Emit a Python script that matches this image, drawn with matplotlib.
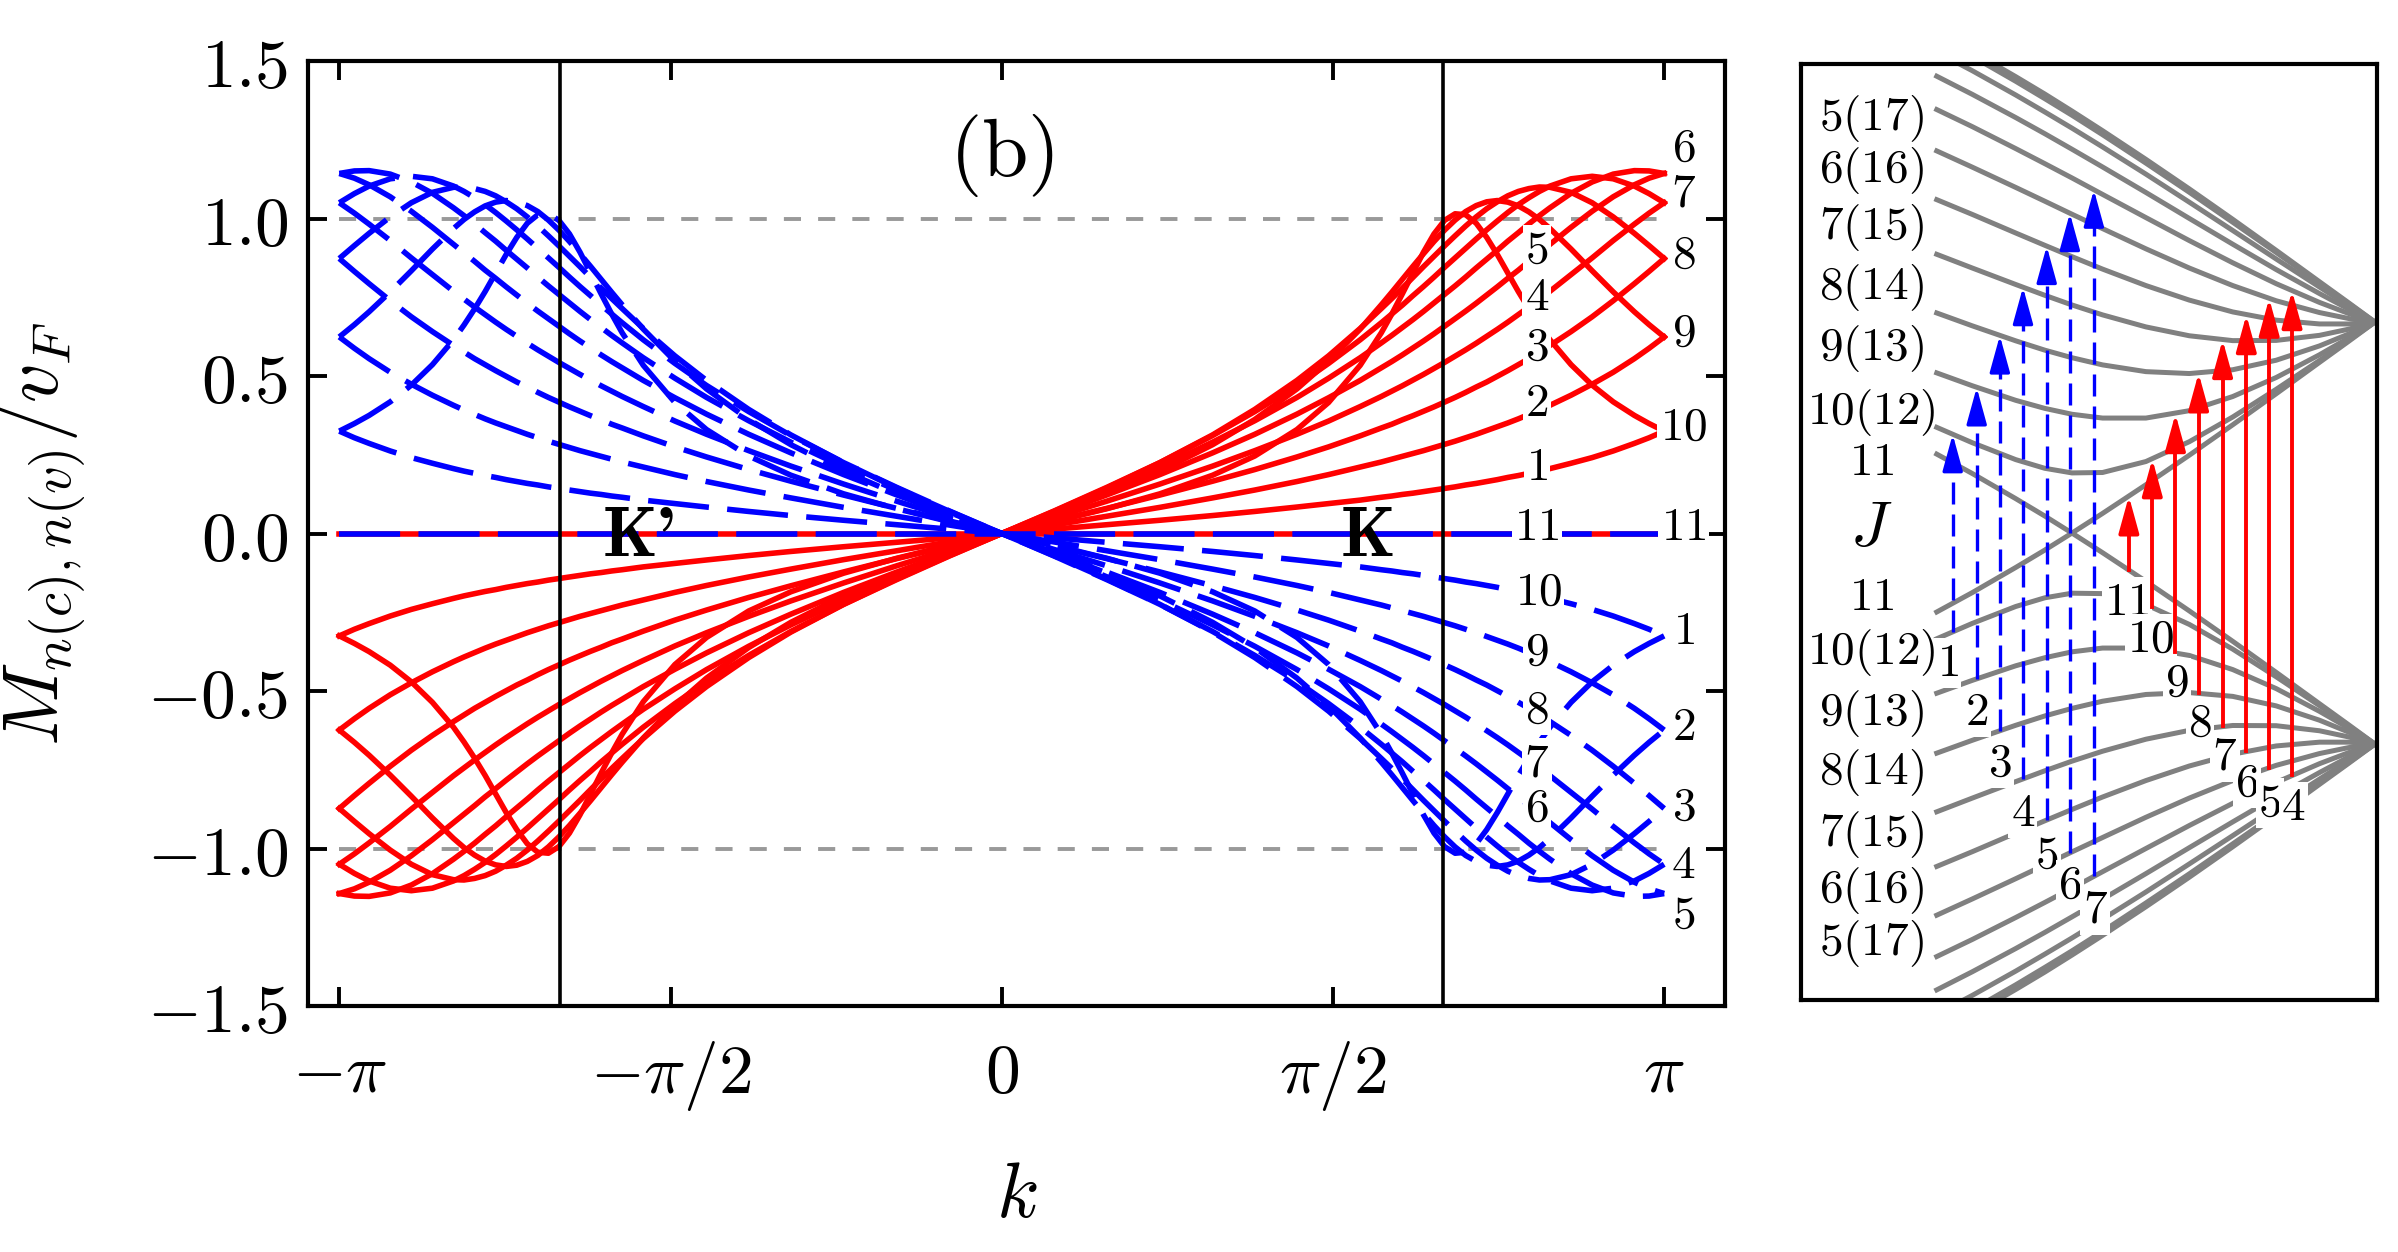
import numpy as np
import matplotlib
matplotlib.use('Agg')
import matplotlib.pyplot as plt

plt.rcParams['mathtext.fontset'] = 'cm'
plt.rcParams['font.family'] = 'serif'
plt.rcParams['font.serif'] = ['DejaVu Serif']

# ---------------- data: left panel (k >= 0 half; curve is odd in k) ----------------
K_GRID = [0, 0.25, 0.5, 0.75, 1.0, 1.2, 1.4, 1.55, 1.7, 1.8, 1.85, 1.9, 1.95, 2.0, 2.05, 2.1,
          2.15, 2.2, 2.25, 2.3, 2.35, 2.4, 2.45, 2.5, 2.55, 2.6, 2.7, 2.8, 2.9, 3.0, 3.07, 3.14159]
# M_{n(c),n(v)}/v_F in thousandths, one list per subband n
M1 = [0, 14, 28, 42, 57, 70, 84, 95, 106, 115, 119, 124, 128, 133, 138, 143, 148, 154, 159, 165, 171, 178, 184, 191, 198, 206, 223, 241, 262, 286, 304, 325]
M2 = [0, 27, 55, 83, 113, 138, 165, 187, 211, 227, 236, 245, 254, 263, 273, 283, 293, 304, 315, 327, 339, 351, 364, 378, 392, 407, 439, 474, 512, 555, 588, 624]
M3 = [0, 40, 80, 122, 166, 203, 243, 275, 310, 335, 347, 361, 374, 388, 402, 417, 432, 448, 465, 481, 499, 517, 536, 555, 576, 597, 641, 688, 739, 793, 832, 873]
M4 = [0, 51, 103, 157, 214, 263, 315, 357, 403, 435, 452, 469, 487, 505, 524, 543, 563, 583, 604, 626, 648, 671, 695, 719, 744, 769, 822, 875, 930, 982, 1017, 1050]
M5 = [0, 61, 123, 187, 256, 315, 379, 431, 486, 526, 546, 567, 589, 611, 634, 658, 682, 706, 731, 757, 783, 810, 836, 864, 891, 918, 972, 1023, 1069, 1107, 1128, 1143]
M6 = [0, 68, 138, 211, 290, 358, 432, 493, 558, 605, 629, 654, 679, 705, 732, 759, 786, 814, 843, 871, 899, 928, 955, 983, 1009, 1034, 1080, 1116, 1141, 1152, 1151, 1143]
M7 = [0, 72, 147, 225, 311, 387, 470, 540, 615, 669, 697, 725, 755, 784, 814, 845, 875, 905, 935, 964, 992, 1019, 1044, 1066, 1086, 1103, 1126, 1134, 1126, 1103, 1079, 1050]
M8 = [0, 71, 145, 225, 313, 394, 486, 564, 651, 714, 746, 779, 813, 847, 880, 913, 945, 976, 1005, 1031, 1053, 1072, 1086, 1095, 1100, 1099, 1083, 1050, 1005, 953, 914, 873]
M9 = [0, 62, 126, 198, 282, 362, 459, 547, 649, 726, 766, 807, 848, 888, 927, 963, 995, 1022, 1041, 1053, 1057, 1052, 1040, 1021, 997, 968, 903, 834, 767, 704, 663, 624]
M10 = [0, 38, 79, 126, 185, 246, 330, 416, 534, 637, 697, 761, 827, 893, 951, 994, 1015, 1012, 985, 940, 886, 827, 768, 713, 662, 615, 536, 471, 418, 375, 349, 325]
M_CURVES = [M1, M2, M3, M4, M5, M6, M7, M8, M9, M10]

X_TICKS = [-np.pi, -np.pi / 2, 0, np.pi / 2, np.pi]
X_TICKLABELS = [r'$-\pi$', r'$-\pi/2$', r'$0$', r'$\pi/2$', r'$\pi$']
Y_TICKS = [-1.5, -1.0, -0.5, 0.0, 0.5, 1.0, 1.5]
Y_TICKLABELS = [r'$-1.5$', r'$-1.0$', r'$-0.5$', r'$0.0$', r'$0.5$', r'$1.0$', r'$1.5$']

# curve labels (text, k, value)
RED_LABELS = [('5', 2.538, 0.899), ('4', 2.538, 0.751), ('3', 2.538, 0.592), ('2', 2.538, 0.413), ('1', 2.538, 0.211),
              ('11', 2.538, 0.021), ('6', 3.233, 1.222), ('7', 3.233, 1.079), ('8', 3.233, 0.883),
              ('9', 3.233, 0.635), ('10', 3.233, 0.338), ('11', 3.233, 0.021)]
BLUE_LABELS = [('10', 2.545, -0.185), ('9', 2.538, -0.376), ('8', 2.538, -0.561), ('7', 2.538, -0.730),
               ('6', 2.538, -0.873), ('1', 3.233, -0.312), ('2', 3.233, -0.614), ('3', 3.233, -0.868),
               ('4', 3.233, -1.053), ('5', 3.233, -1.212)]

# ---------------- data: right panel (band energies E_J(k), thousandths) ----------------
KR = [1.627, 1.75, 1.9, 2.0, 2.0944, 2.2, 2.35, 2.5, 2.65, 2.8, 2.95, 3.05, 3.14159]
E1 = [2350, 2259, 2141, 2059, 1980, 1888, 1753, 1615, 1473, 1330, 1185, 1088, 1000]
E2 = [2280, 2191, 2076, 1996, 1919, 1830, 1701, 1568, 1434, 1299, 1166, 1078, 1000]
E3 = [2165, 2079, 1969, 1893, 1819, 1735, 1614, 1491, 1369, 1249, 1135, 1062, 1000]
E4 = [2007, 1926, 1822, 1751, 1683, 1605, 1495, 1386, 1281, 1182, 1093, 1041, 1000]
E5 = [1811, 1734, 1638, 1573, 1511, 1443, 1347, 1256, 1173, 1101, 1045, 1017, 1000]
E6 = [1580, 1510, 1422, 1364, 1310, 1251, 1173, 1104, 1048, 1009, 991, 991, 1000]
E7 = [1321, 1256, 1178, 1127, 1081, 1034, 977, 935, 912, 913, 937, 966, 1000]
E8 = [1043, 982, 911, 867, 831, 797, 765, 756, 774, 819, 887, 943, 1000]
E9 = [759, 698, 629, 591, 563, 545, 545, 580, 647, 737, 845, 924, 1000]
E10 = [501, 428, 348, 307, 285, 287, 339, 433, 550, 681, 818, 913, 1000]
E11 = [374, 282, 163, 81, 0, 93, 229, 369, 513, 660, 809, 908, 1000]
E22 = [2374, 2282, 2163, 2081, 2000, 1907, 1771, 1631, 1487, 1340, 1191, 1092, 1000]
BANDS = [E1, E2, E3, E4, E5, E6, E7, E8, E9, E10, E11, E22]

# transitions: k position and band energy reached (valence -E -> conduction +E)
K_BLUE = [1.682, 1.765, 1.845, 1.925, 2.007, 2.087, 2.170]
E_BLUE = [0.468, 0.690, 0.936, 1.165, 1.360, 1.516, 1.627]
K_RED = [2.291, 2.372, 2.452, 2.532, 2.615, 2.697, 2.776, 2.855]
E_RED = [0.175, 0.351, 0.565, 0.758, 0.916, 1.034, 1.112, 1.148]

LEFT_TEXT = [('5(17)', 1.967), ('6(16)', 1.720), ('7(15)', 1.450), ('8(14)', 1.166), ('9(13)', 0.877),
             ('10(12)', 0.569), ('11', 0.336), ('11', -0.303), ('10(12)', -0.564),
             ('9(13)', -0.853), ('8(14)', -1.137), ('7(15)', -1.431), ('6(16)', -1.692), ('5(17)', -1.943)]
LOW_TEXT = [('1', 1.665, -0.616), ('2', 1.765, -0.848), ('3', 1.845, -1.090), ('4', 1.924, -1.327),
            ('5', 2.008, -1.526), ('6', 2.087, -1.668), ('7', 2.174, -1.787),
            ('11', 2.284, -0.327), ('10', 2.368, -0.503), ('9', 2.457, -0.711), ('8', 2.537, -0.900),
            ('7', 2.623, -1.062), ('6', 2.700, -1.185), ('5', 2.779, -1.280), ('4', 2.859, -1.299)]

RED = '#ff0000'
BLUE = '#0000ff'
GRAY = '#808080'

# ---------------- figure ----------------
fig = plt.figure(figsize=(11.99, 6.26), dpi=200)
ax = fig.add_axes([308 / 2398, 1 - 1006 / 1252, (1725 - 308) / 2398, (1006 - 61) / 1252])
ax.set_xlim(-3.29, 3.43)
ax.set_ylim(-1.5, 1.5)

kg = np.array(K_GRID)
kfull = np.concatenate([-kg[::-1], kg[1:]])
for m in M_CURVES:
    mv = np.array(m) / 1000.0
    mfull = np.concatenate([-mv[::-1], mv[1:]])
    ax.plot(kfull, mfull, color=RED, lw=2.0, zorder=2)
    ax.plot(kfull, -mfull, color=BLUE, lw=2.0, dashes=(11, 3.3), zorder=3)
# n = 11 : zero matrix element
ax.plot([-np.pi, np.pi], [0, 0], color=RED, lw=2.0, zorder=2)
ax.plot([-np.pi, np.pi], [0, 0], color=BLUE, lw=2.0, dashes=(11, 3.3), zorder=3)

for yv in (1, -1):
    ax.plot([-np.pi, np.pi], [yv, yv], color='#999999', lw=1.4, dashes=(4.4, 4.4), zorder=1)
for xv in (-2 * np.pi / 3, 2 * np.pi / 3):
    ax.axvline(xv, color='k', lw=1.3, zorder=4)

ax.set_xticks(X_TICKS)
ax.set_xticklabels(X_TICKLABELS)
ax.set_yticks(Y_TICKS)
ax.set_yticklabels(Y_TICKLABELS)
ax.tick_params(direction='in', top=True, right=True, length=7, width=1.4, labelsize=25)
ax.tick_params(axis='x', pad=12)
ax.tick_params(axis='y', pad=7)
for s in ax.spines.values():
    s.set_linewidth(1.5)
ax.set_ylabel(r'$M_{n(c),n(v)}/v_F$', fontsize=28)
ax.yaxis.set_label_coords(-0.155, 0.5)
ax.set_xlabel(r'$k$', fontsize=28)
ax.xaxis.set_label_coords(0.5, -0.16)

ax.text(0, 1.2, r'$(\mathrm{b})$', fontsize=30, ha='center', va='center')
ax.text(-1.719, -0.015, "K'", fontfamily='cmb10', fontsize=25, ha='center', va='center', zorder=6)
ax.text(1.738, -0.015, "K", fontfamily='cmb10', fontsize=25, ha='center', va='center', zorder=6)

bb = dict(boxstyle='square,pad=0.05', fc='white', ec='none')
for t, x, y in RED_LABELS + BLUE_LABELS:
    ax.text(x, y, '$%s$' % t, fontsize=17, ha='center', va='center', bbox=bb, zorder=5)

# ---------------- right panel ----------------
ax2 = fig.add_axes([1801 / 2398, 1 - 1000 / 1252, 576 / 2398, 936 / 1252])
ax2.set_xlim(1.1577, 3.1487)
ax2.set_ylim(-2.213, 2.223)
ax2.set_xticks([])
ax2.set_yticks([])
for s in ax2.spines.values():
    s.set_linewidth(1.5)

for e in BANDS:
    ev = np.array(e) / 1000.0
    ax2.plot(KR, ev, color=GRAY, lw=1.8, zorder=1)
    ax2.plot(KR, -ev, color=GRAY, lw=1.8, zorder=1)

hl = 0.15
astyle = '-|>,head_length=0.8,head_width=0.22'
for k, e in zip(K_BLUE, E_BLUE):
    ax2.plot([k, k], [-e, e - hl], color=BLUE, lw=1.2, dashes=(6.6, 3.0), zorder=3)
    ax2.annotate('', xy=(k, e), xytext=(k, e - hl),
                 arrowprops=dict(arrowstyle=astyle, mutation_scale=14, color=BLUE, lw=1.2,
                                 shrinkA=0, shrinkB=0), zorder=3)
for k, e in zip(K_RED, E_RED):
    ax2.plot([k, k], [-e, e - hl], color=RED, lw=1.4, zorder=3)
    ax2.annotate('', xy=(k, e), xytext=(k, e - hl),
                 arrowprops=dict(arrowstyle=astyle, mutation_scale=14, color=RED, lw=1.4,
                                 shrinkA=0, shrinkB=0), zorder=3)

for t, y in LEFT_TEXT:
    ax2.text(1.402, y, '$%s$' % t, fontsize=17, ha='center', va='center', zorder=4)
ax2.text(1.402, 0.02, r'$J$', fontsize=23, ha='center', va='center', zorder=4)
for t, x, y in LOW_TEXT:
    ax2.text(x, y, '$%s$' % t, fontsize=17, ha='center', va='center', bbox=bb, zorder=2)

fig.savefig('out.png', dpi=200)
